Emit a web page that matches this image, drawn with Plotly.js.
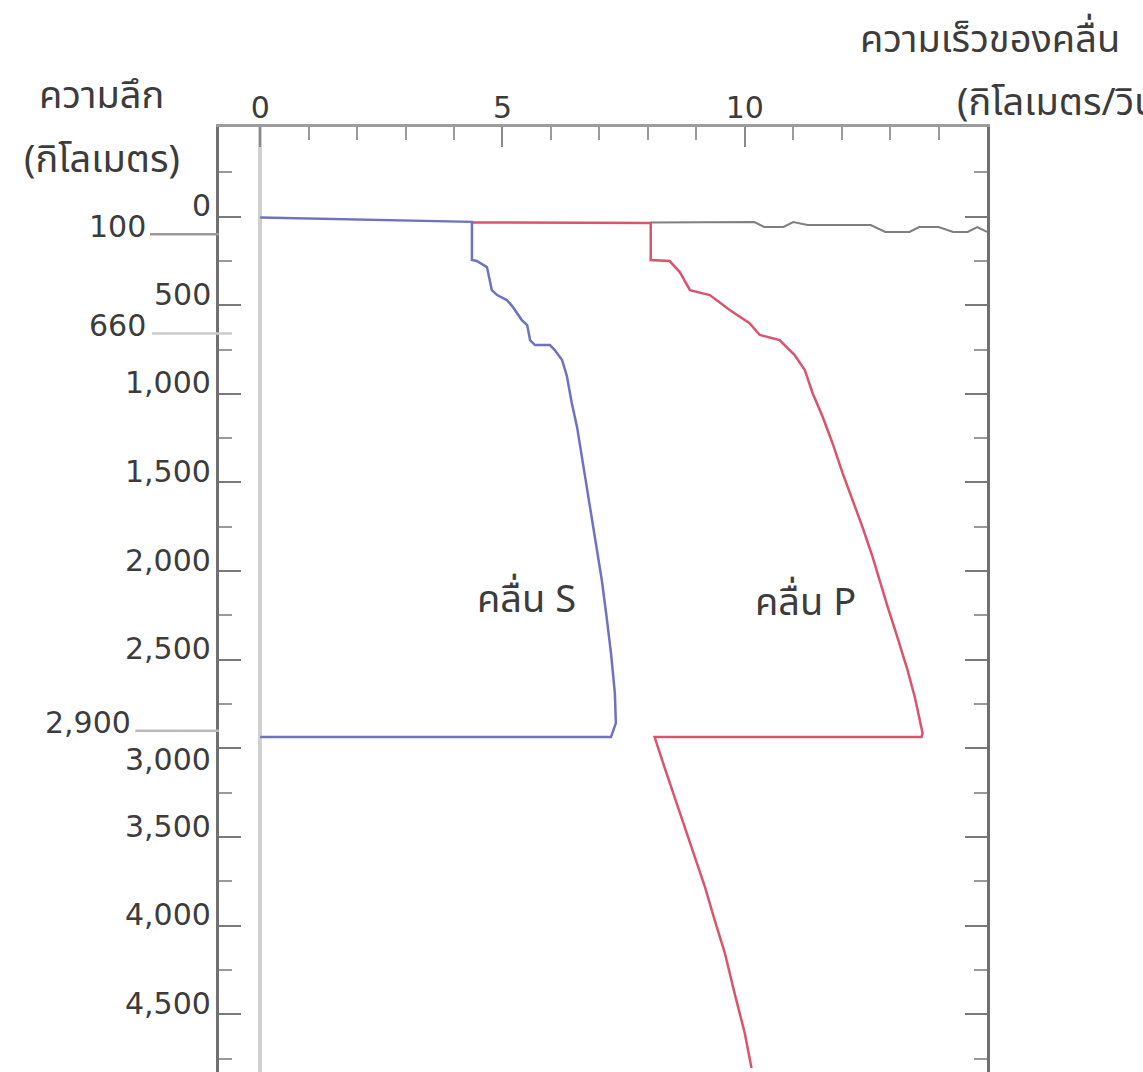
<!DOCTYPE html>
<html>
<head>
<meta charset="utf-8">
<script src="https://cdn.plot.ly/plotly-3.0.1.min.js"></script>
<style>html,body{margin:0;padding:0;background:#fff;overflow:hidden;}</style>
</head>
<body>
<div id="chart" style="width:1143px;height:1072px;"></div>
<script>
// S-wave velocity (km/s) and depth (km)
var sVelocity = [0, 4.37, 4.37, 4.47, 4.68, 4.78, 4.89, 5.09, 5.20, 5.40, 5.51, 5.57, 5.67, 5.98, 6.08, 6.23, 6.33, 6.43, 6.54, 6.64, 6.74, 6.85, 6.95, 7.05, 7.15, 7.24, 7.32, 7.34, 7.24, 0];
var sDepth    = [5, 30, 245, 251, 285, 415, 443, 471, 505, 584, 612, 697, 725, 725, 753, 809, 900, 1052, 1188, 1357, 1526, 1695, 1864, 2050, 2259, 2462, 2688, 2857, 2936, 2936];

// P-wave velocity (km/s) and depth (km)
var pVelocity = [4.37, 8.06, 8.06, 8.45, 8.66, 8.87, 9.28, 9.69, 10.10, 10.31, 10.72, 11.03, 11.24, 11.40, 11.61, 11.81, 12.02, 12.23, 12.43, 12.64, 12.78, 12.95, 13.15, 13.36, 13.51, 13.61, 13.67, 13.65, 8.14, 8.35, 8.56, 8.76, 8.97, 9.18, 9.38, 9.59, 9.79, 10.00, 10.14];
var pDepth    = [33, 37, 245, 251, 313, 415, 443, 527, 601, 668, 697, 781, 866, 995, 1131, 1277, 1447, 1599, 1751, 1921, 2050, 2202, 2372, 2558, 2710, 2840, 2913, 2936, 2936, 3111, 3280, 3444, 3613, 3782, 3968, 4154, 4380, 4605, 4803];

// Surface line (grey)
var surfVelocity = [8.06, 8.8, 9.5, 10.2, 10.4, 10.8, 11.0, 11.3, 12.0, 12.6, 12.9, 13.4, 13.6, 14.0, 14.3, 14.6, 14.8, 15.0];
var surfDepth    = [33, 31, 31, 31, 59, 59, 31, 48, 48, 48, 87, 87, 59, 59, 87, 87, 59, 87];

// Axis ticks
var xTickVals = [0, 5, 10];
var yTickVals = [0, 500, 1000, 1500, 2000, 2500, 3000, 3500, 4000, 4500];
var yTickText = ["0", "500", "1,000", "1,500", "2,000", "2,500", "3,000", "3,500", "4,000", "4,500"];

// Boundary markers
var boundaryDepths = [100, 660, 2900];
var boundaryLabels = ["100", "660", "2,900"];

// Text labels
var waveLabels = ["คลื่น S", "คลื่น P"];
var waveLabelVel = [5.49, 11.26];
var waveLabelDepth = [2165, 2180];
var yTitleLines = ["ความลึก", "(กิโลเมตร)"];
var xTitleLines = ["ความเร็วของคลื่น", "(กิโลเมตร/วินาที)"];

var numFont = {family: "DejaVu Sans, sans-serif", size: 30, color: "#3c3c3c"};
var thaiFont = {family: "Tahoma, 'Noto Sans Thai', 'Noto Sans', 'DejaVu Sans', sans-serif", size: 38, color: "#3c3c3c"};

var traces = [
  {x: surfVelocity, y: surfDepth, mode: "lines", line: {color: "#7f7f7f", width: 2}, hoverinfo: "skip"},
  {x: pVelocity, y: pDepth, mode: "lines", line: {color: "#d9546c", width: 2.5}, hoverinfo: "skip"},
  {x: sVelocity, y: sDepth, mode: "lines", line: {color: "#6e72c0", width: 2.5}, hoverinfo: "skip"}
];

var bLineStart = [-0.0898, -0.0872, -0.109];
var bLineEnd = [0, 0.017, 0];
var bLineColor = ["#9a9a9a", "#cccccc", "#b8b8b8"];
var shapes = boundaryDepths.map(function(d, i) {
  return {type: "line", xref: "paper", yref: "y", x0: bLineStart[i], x1: bLineEnd[i], y0: d, y1: d,
          line: {color: bLineColor[i], width: 2.5}};
});

var bLabelX = [-0.092, -0.092, -0.112];
var annotations = boundaryDepths.map(function(d, i) {
  return {xref: "paper", yref: "y", x: bLabelX[i], y: d, text: boundaryLabels[i], showarrow: false,
          xanchor: "right", yanchor: "middle", yshift: 8, font: numFont};
});
// depth tick labels sit just above their ticks (3,000 sits below, clear of the 2,900 marker)
yTickVals.forEach(function(v, i) {
  annotations.push({xref: "paper", yref: "y", x: -0.008, y: v, text: yTickText[i], showarrow: false,
                    xanchor: "right", yanchor: "middle", yshift: (v === 3000 ? -11 : 11), font: numFont});
});
waveLabels.forEach(function(t, i) {
  annotations.push({xref: "x", yref: "y", x: waveLabelVel[i], y: waveLabelDepth[i], text: t, showarrow: false,
                    xanchor: "center", yanchor: "middle", font: thaiFont});
});
annotations.push({xref: "paper", yref: "paper", x: -0.153, y: 1.032, text: yTitleLines[0], showarrow: false, xanchor: "center", yanchor: "middle", font: thaiFont});
annotations.push({xref: "paper", yref: "paper", x: -0.152, y: 0.965, text: yTitleLines[1], showarrow: false, xanchor: "center", yanchor: "middle", font: thaiFont});
annotations.push({xref: "paper", yref: "paper", x: 0.832, y: 1.092, text: xTitleLines[0], showarrow: false, xanchor: "left", yanchor: "middle", font: thaiFont});
annotations.push({xref: "paper", yref: "paper", x: 0.958, y: 1.025, text: xTitleLines[1], showarrow: false, xanchor: "left", yanchor: "middle", font: thaiFont});

var layout = {
  width: 1143, height: 1072,
  margin: {l: 219, r: 156, t: 127, b: 0, pad: 0},
  paper_bgcolor: "#ffffff", plot_bgcolor: "#ffffff",
  showlegend: false,
  xaxis: {
    side: "top", range: [-0.85, 15], tickmode: "array", tickvals: xTickVals,
    ticks: "inside", ticklen: 20, tickwidth: 2, tickcolor: "#8a8a8a",
    showline: true, linecolor: "#9c9c9c", linewidth: 3,
    showgrid: false, zeroline: true, zerolinecolor: "#d0d0d0", zerolinewidth: 4,
    tickfont: numFont, ticklabelstandoff: -6,
    minor: {tickmode: "linear", tick0: 0, dtick: 1, ticks: "inside", ticklen: 13, tickwidth: 2, tickcolor: "#9a9a9a", showgrid: false}
  },
  yaxis: {
    range: [4825, -505], tickmode: "array", tickvals: yTickVals,
    showticklabels: false,
    ticks: "inside", ticklen: 22, tickwidth: 2, tickcolor: "#7a7a7a",
    showline: true, linecolor: "#707070", linewidth: 3, mirror: "ticks",
    showgrid: false, zeroline: false,
    minor: {tickmode: "linear", tick0: 0, dtick: 250, ticks: "inside", ticklen: 13, tickwidth: 2, tickcolor: "#9a9a9a", showgrid: false}
  },
  shapes: shapes,
  annotations: annotations
};

Plotly.newPlot("chart", traces, layout, {displayModeBar: false, staticPlot: true});
</script>
</body>
</html>
